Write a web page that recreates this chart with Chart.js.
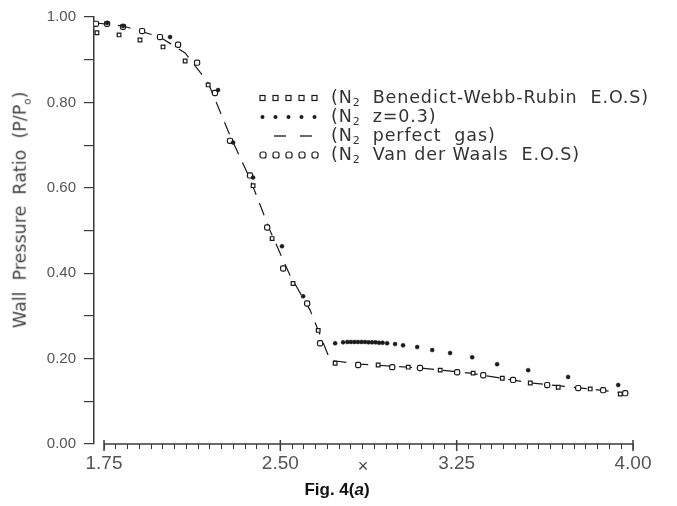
<!DOCTYPE html>
<html>
<head>
<meta charset="utf-8">
<script src="https://cdn.jsdelivr.net/npm/chart.js@4.4.1/dist/chart.umd.min.js"></script>
<style>
  html, body { margin:0; padding:0; background:#fff; }
  #wrap { position:relative; width:677px; height:506px; overflow:hidden; }
  #c { position:absolute; left:0; top:0; }
  .ov { position:absolute; white-space:pre; color:#333; font-family:"DejaVu Sans", sans-serif; }
  .leg { position:absolute; left:258px; height:19px; display:flex; align-items:center; white-space:pre;
         font-family:"DejaVu Sans", sans-serif; font-size:17.5px; letter-spacing:0.9px; color:#333; }
  .leg svg { margin-right:11px; }
  .leg sub { font-size:11px; vertical-align:-3px; letter-spacing:0; }
  #ytitle { left:21px; top:210px; transform:translate(-50%,-50%) rotate(-90deg); font-size:17.5px; color:#444; }
  #ytitle sub { font-size:10px; }
  #xmark { left:363px; top:466px; transform:translate(-50%,-50%); font-size:18px; color:#444; font-family:"Liberation Sans", sans-serif; }
  #cap { left:337px; top:490px; transform:translate(-50%,-50%); font-size:17px; font-weight:bold; color:#111; font-family:"Liberation Sans", sans-serif; }
</style>
</head>
<body>
<div id="wrap">
  <canvas id="c" width="677" height="506"></canvas>
  <div id="ytitle" class="ov">Wall  Pressure  Ratio  (P/P<sub>o</sub>)</div>
  <div id="xmark" class="ov">×</div>
  <div id="cap" class="ov">Fig. 4(<i>a</i>)</div>
  <div id="legend"></div>
</div>
<script>
// ---------- DATA ----------
const xTickLabels = ["1.75", "2.50", "3.25", "4.00"];
const yTickLabels = ["0.00", "0.20", "0.40", "0.60", "0.80", "1.00"];

const seriesNames = [
  "Benedict-Webb-Rubin  E.O.S)",
  "z=0.3)",
  "perfect  gas)",
  "Van der Waals  E.O.S)"
];

// N2 Benedict-Webb-Rubin E.O.S (squares)
const bwrX = [1.720, 1.814, 1.903, 2.001, 2.095, 2.193, 2.286, 2.384, 2.465, 2.554, 2.661,
              2.733, 2.916, 3.044, 3.180, 3.320, 3.444, 3.563, 3.682, 3.818, 3.946];
const bwrY = [0.963, 0.958, 0.946, 0.930, 0.897, 0.841, 0.710, 0.605, 0.481, 0.376, 0.266,
              0.189, 0.185, 0.180, 0.173, 0.166, 0.154, 0.143, 0.133, 0.129, 0.117];

// N2 z=0.3 (filled dots)
const z03X = [1.763, 1.831, 2.031, 2.235, 2.299, 2.384, 2.507, 2.597, 2.733, 2.767,
              2.785, 2.800, 2.815, 2.830, 2.845, 2.860, 2.875, 2.890, 2.905, 2.920, 2.935,
              2.954, 2.988, 3.022, 3.082, 3.146, 3.222, 3.316, 3.422, 3.554, 3.724, 3.937];
const z03Y = [0.986, 0.979, 0.953, 0.829, 0.706, 0.624, 0.463, 0.346, 0.236, 0.238,
              0.239, 0.239, 0.239, 0.239, 0.239, 0.239, 0.238, 0.238, 0.238, 0.237, 0.237,
              0.236, 0.234, 0.231, 0.227, 0.220, 0.213, 0.203, 0.187, 0.173, 0.157, 0.138];

// N2 perfect gas (dashed line)
const pgX = [1.716, 1.831, 1.988, 2.095, 2.193, 2.286, 2.371, 2.456, 2.541, 2.627, 2.678,
             2.712, 2.839, 3.094, 3.307, 3.563, 3.818, 3.967];
const pgY = [0.986, 0.979, 0.953, 0.916, 0.846, 0.722, 0.621, 0.500, 0.395, 0.313, 0.243,
             0.196, 0.187, 0.178, 0.166, 0.143, 0.129, 0.119];

// N2 Van der Waals E.O.S (open circles)
const vdwX = [1.716, 1.763, 1.831, 1.912, 1.988, 2.065, 2.146, 2.222, 2.286, 2.371, 2.444,
              2.512, 2.614, 2.669, 2.831, 2.976, 3.094, 3.252, 3.363, 3.490, 3.635, 3.767, 3.873, 3.967];
const vdwY = [0.984, 0.984, 0.977, 0.967, 0.953, 0.935, 0.893, 0.822, 0.710, 0.629, 0.507,
              0.411, 0.329, 0.236, 0.185, 0.180, 0.178, 0.168, 0.161, 0.150, 0.138, 0.131, 0.126, 0.119];

// ---------- CHART ----------
const pts = (xs, ys) => xs.map((x, i) => ({ x: x, y: ys[i] }));
const INK = "#1a1a1a";
const AX = "#3a3a3a";

const xMajor = xTickLabels.map(Number);
const X_MIN = 1.7074, X_MAX = 4.0;

const axisLine = {
  id: "axisLine",
  afterDraw(chart) {
    const { ctx, scales: { x, y } } = chart;
    const y0 = y.getPixelForValue(0);
    ctx.save();
    ctx.strokeStyle = AX;
    ctx.lineWidth = 1.5;
    ctx.beginPath();
    ctx.moveTo(x.getPixelForValue(xMajor[0]), y0);
    ctx.lineTo(x.getPixelForValue(X_MAX), y0);
    ctx.stroke();
    xMajor.forEach(v => {
      const px = x.getPixelForValue(v);
      ctx.beginPath();
      ctx.moveTo(px, y0 - 4);
      ctx.lineTo(px, y0 + 7);
      ctx.stroke();
    });
    ctx.restore();
  }
};

new Chart(document.getElementById("c"), {
  type: "scatter",
  data: {
    datasets: [
      { label: seriesNames[2], data: pts(pgX, pgY), showLine: true, borderColor: INK, borderWidth: 1.2,
        borderDash: [13, 9], pointRadius: 0, tension: 0, order: 4 },
      { label: seriesNames[0], data: pts(bwrX, bwrY), pointStyle: "rect", pointRadius: 2.6,
        borderColor: INK, backgroundColor: "#fff", pointBorderWidth: 1.2, showLine: false, order: 3 },
      { label: seriesNames[3], data: pts(vdwX, vdwY), pointStyle: "rectRounded", pointRadius: 3,
        borderColor: INK, backgroundColor: "#fff", pointBorderWidth: 1.2, showLine: false, order: 2 },
      { label: seriesNames[1], data: pts(z03X, z03Y), pointStyle: "circle", pointRadius: 2,
        borderColor: INK, backgroundColor: INK, pointBorderWidth: 0.5, showLine: false, order: 1 }
    ]
  },
  options: {
    responsive: false,
    animation: false,
    events: [],
    layout: { padding: { left: 0, top: 16, right: 44, bottom: 0 } },
    plugins: { legend: { display: false }, tooltip: { enabled: false } },
    scales: {
      x: {
        type: "linear", min: X_MIN, max: X_MAX,
        afterBuildTicks(s) {
          const t = [];
          for (let i = 0; i <= 45; i++) t.push({ value: +(1.75 + i * 0.05).toFixed(2) });
          s.ticks = t;
        },
        afterFit(s) { s.height = 62; },
        border: { display: false },
        grid: { drawOnChartArea: false, drawTicks: true, tickLength: 5, color: AX, lineWidth: 1 },
        ticks: {
          autoSkip: false, maxRotation: 0, padding: 3, color: "#555",
          font: { family: "Liberation Sans", size: 19 },
          callback(v) {
            const s = (+v).toFixed(2);
            return xTickLabels.includes(s) ? s : "";
          }
        }
      },
      y: {
        type: "linear", min: 0, max: 1,
        afterBuildTicks(s) {
          const t = [];
          for (let i = 0; i <= 10; i++) t.push({ value: +(i * 0.1).toFixed(1) });
          s.ticks = t;
        },
        afterFit(s) { s.width = 94; },
        border: { display: true, color: AX, width: 1.5 },
        grid: { drawOnChartArea: false, drawTicks: true, tickLength: 10, color: AX, lineWidth: 1.2 },
        ticks: {
          autoSkip: false, padding: 8, color: "#555",
          font: { family: "Liberation Sans", size: 15 },
          callback(v) {
            const s = (+v).toFixed(2);
            return yTickLabels.includes(s) ? s : "";
          }
        }
      }
    }
  },
  plugins: [axisLine]
});

// ---------- LEGEND (HTML) ----------
function sym(kind) {
  let s = '<svg width="62" height="12" viewBox="0 0 62 12">';
  if (kind === "sq") for (let i = 0; i < 5; i++) s += `<rect x="${2 + i * 13}" y="3.5" width="5" height="5" fill="#fff" stroke="${INK}" stroke-width="1.2"/>`;
  if (kind === "dot") for (let i = 0; i < 5; i++) s += `<circle cx="${4.5 + i * 13}" cy="6" r="2" fill="${INK}"/>`;
  if (kind === "dash") s += `<line x1="16" y1="6" x2="28" y2="6" stroke="${INK}" stroke-width="1.3"/><line x1="42" y1="6" x2="54" y2="6" stroke="${INK}" stroke-width="1.3"/>`;
  if (kind === "circ") for (let i = 0; i < 5; i++) s += `<rect x="${2 + i * 13}" y="3" width="6" height="6" rx="2" fill="#fff" stroke="${INK}" stroke-width="1.2"/>`;
  return s + "</svg>";
}
const legKinds = ["sq", "dot", "dash", "circ"];
const legOrder = [0, 1, 2, 3];
const legTops = [88, 107, 126, 145];
const legEl = document.getElementById("legend");
legOrder.forEach((k, i) => {
  const d = document.createElement("div");
  d.className = "leg";
  d.style.top = legTops[i] + "px";
  d.innerHTML = sym(legKinds[i]) + "<span>(N<sub>2</sub>  " + seriesNames[k] + "</span>";
  legEl.appendChild(d);
});
</script>
</body>
</html>
